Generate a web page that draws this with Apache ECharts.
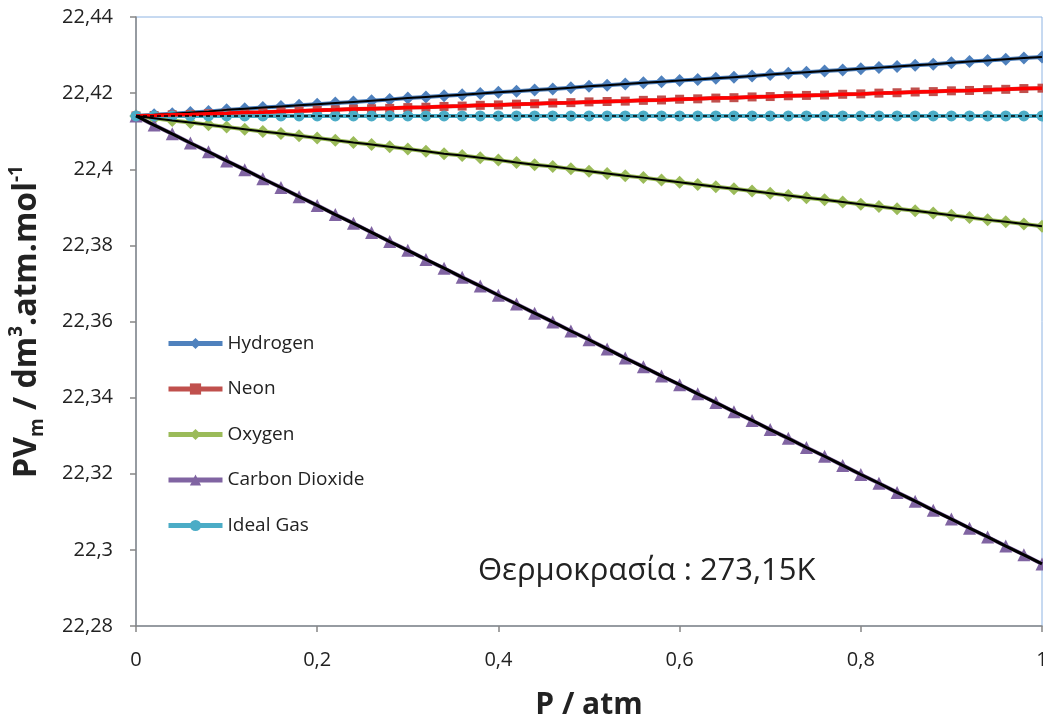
<!DOCTYPE html>
<html>
<head>
<meta charset="utf-8">
<script src="https://cdn.jsdelivr.net/npm/echarts@6/dist/echarts.min.js"></script>
<style>html,body{margin:0;padding:0;background:#fff}#c{width:1043px;height:719px}</style>
</head>
<body>
<div id="c"></div>
<script>
const pressure = [0,0.02,0.04,0.06,0.08,0.1,0.12,0.14,0.16,0.18,0.2,0.22,0.24,0.26,0.28,0.3,0.32,0.34,0.36,0.38,0.4,0.42,0.44,0.46,0.48,0.5,0.52,0.54,0.56,0.58,0.6,0.62,0.64,0.66,0.68,0.7,0.72,0.74,0.76,0.78,0.8,0.82,0.84,0.86,0.88,0.9,0.92,0.94,0.96,0.98,1];

const hydrogen = [22.4140,22.4143,22.4146,22.4149,22.4152,22.4156,22.4159,22.4162,22.4165,22.4168,22.4171,22.4174,22.4177,22.4180,22.4183,22.4187,22.4190,22.4193,22.4196,22.4199,22.4202,22.4205,22.4208,22.4211,22.4214,22.4218,22.4221,22.4224,22.4227,22.4230,22.4233,22.4236,22.4239,22.4242,22.4245,22.4249,22.4252,22.4255,22.4258,22.4261,22.4264,22.4267,22.4270,22.4273,22.4276,22.4280,22.4283,22.4286,22.4289,22.4292,22.4295];

const neon = [22.4140,22.4141,22.4143,22.4144,22.4146,22.4147,22.4149,22.4150,22.4152,22.4153,22.4155,22.4156,22.4158,22.4159,22.4160,22.4162,22.4163,22.4165,22.4166,22.4168,22.4169,22.4171,22.4172,22.4174,22.4175,22.4177,22.4178,22.4179,22.4181,22.4182,22.4184,22.4185,22.4187,22.4188,22.4190,22.4191,22.4193,22.4194,22.4195,22.4197,22.4198,22.4200,22.4201,22.4203,22.4204,22.4206,22.4207,22.4209,22.4210,22.4212,22.4213];

const oxygen = [22.4140,22.4134,22.4128,22.4123,22.4117,22.4111,22.4105,22.4099,22.4094,22.4088,22.4082,22.4076,22.4070,22.4065,22.4059,22.4053,22.4047,22.4041,22.4036,22.4030,22.4024,22.4018,22.4012,22.4007,22.4001,22.3995,22.3989,22.3983,22.3978,22.3972,22.3966,22.3960,22.3954,22.3949,22.3943,22.3937,22.3931,22.3925,22.3920,22.3914,22.3908,22.3902,22.3896,22.3891,22.3885,22.3879,22.3873,22.3867,22.3862,22.3856,22.3850];

const carbonDioxide = [22.4140,22.4116,22.4093,22.4069,22.4046,22.4022,22.3999,22.3975,22.3952,22.3928,22.3905,22.3881,22.3858,22.3834,22.3810,22.3787,22.3763,22.3740,22.3716,22.3693,22.3669,22.3646,22.3622,22.3599,22.3575,22.3552,22.3528,22.3504,22.3481,22.3457,22.3434,22.3410,22.3387,22.3363,22.3340,22.3316,22.3293,22.3269,22.3246,22.3222,22.3198,22.3175,22.3151,22.3128,22.3104,22.3081,22.3057,22.3034,22.3010,22.2987,22.2963];

const idealGas = [22.414,22.414,22.414,22.414,22.414,22.414,22.414,22.414,22.414,22.414,22.414,22.414,22.414,22.414,22.414,22.414,22.414,22.414,22.414,22.414,22.414,22.414,22.414,22.414,22.414,22.414,22.414,22.414,22.414,22.414,22.414,22.414,22.414,22.414,22.414,22.414,22.414,22.414,22.414,22.414,22.414,22.414,22.414,22.414,22.414,22.414,22.414,22.414,22.414,22.414,22.414];

const seriesNames = ['Hydrogen','Neon','Oxygen','Carbon Dioxide','Ideal Gas'];
const xTicks = ['0','0,2','0,4','0,6','0,8','1'];
const annotation = 'Θερμοκρασία : 273,15K';

const FONT = '"Open Sans", "Noto Sans", sans-serif';
const pair = arr => arr.map((v, i) => [pressure[i], v]);

function dataSeries(name, arr, color, symbol, size) {
  return {
    name: name, type: 'line', data: pair(arr), z: 2,
    symbol: symbol, symbolSize: size, showSymbol: true,
    lineStyle: { color: color, width: 4 }, itemStyle: { color: color },
    emphasis: { disabled: true }
  };
}
function overlay(arr, color, width, type) {
  return {
    type: 'line', data: pair(arr), z: 3, symbol: 'none',
    lineStyle: { color: color, width: width, type: type || 'solid' },
    emphasis: { disabled: true }, silent: true
  };
}

const chart = echarts.init(document.getElementById('c'), null, { renderer: 'canvas' });
chart.setOption({
  animation: false,
  backgroundColor: '#ffffff',
  textStyle: { fontFamily: FONT },
  grid: { left: 136, right: 1, top: 17, bottom: 93, containLabel: false, outerBoundsMode: 'none',
    show: true, borderColor: '#8EB4E3', borderWidth: 1, backgroundColor: 'transparent' },
  legend: {
    data: seriesNames, orient: 'vertical', left: 161, top: 329,
    itemWidth: 54, itemHeight: 14, itemGap: 26.5,
    lineStyle: { width: 5 },
    textStyle: { fontFamily: FONT, fontSize: 19, color: '#222' }
  },
  xAxis: {
    type: 'value', min: 0, max: 1, interval: 0.2,
    axisLine: { show: true, lineStyle: { color: '#868686', width: 1.5 } },
    axisTick: { show: true, length: 6, lineStyle: { color: '#868686', width: 1.5 } },
    splitLine: { show: false },
    axisLabel: { margin: 24, fontSize: 20, color: '#222', fontFamily: FONT,
      formatter: v => xTicks[Math.round(v / 0.2)] },
    name: 'P / atm', nameLocation: 'middle', nameGap: 64,
    nameTextStyle: { fontSize: 30, fontWeight: 'bold', color: '#222', fontFamily: FONT }
  },
  yAxis: {
    type: 'value', min: 22.28, max: 22.44, interval: 0.02,
    axisLine: { show: true, lineStyle: { color: '#868686', width: 1.5 } },
    axisTick: { show: true, length: 6, lineStyle: { color: '#868686', width: 1.5 } },
    splitLine: { show: false },
    axisLabel: { margin: 23, fontSize: 20, color: '#222', fontFamily: FONT,
      formatter: v => (Math.round(v * 100) / 100).toString().replace('.', ',') },
    name: '{b|PV}{sub|m}{b| / dm}{sup|3}{b|.atm.mol}{sup|-1}',
    nameLocation: 'middle', nameGap: 89, nameRotate: 90,
    nameTextStyle: {
      color: '#222', fontFamily: FONT,
      rich: {
        b: { fontSize: 32, fontWeight: 'bold', color: '#222', fontFamily: FONT, lineHeight: 40, verticalAlign: 'middle' },
        sub: { fontSize: 19, fontWeight: 'bold', color: '#222', fontFamily: FONT, lineHeight: 40, verticalAlign: 'bottom' },
        sup: { fontSize: 19, fontWeight: 'bold', color: '#222', fontFamily: FONT, lineHeight: 40, verticalAlign: 'top' }
      }
    }
  },
  graphic: [{
    type: 'text', left: 478, top: 556, silent: true,
    style: { text: annotation, fontSize: 31, fontFamily: FONT, fill: '#222' }
  }],
  series: [
    dataSeries('Hydrogen', hydrogen, '#4F81BD', 'diamond', 13),
    dataSeries('Neon', neon, '#C0504D', 'rect', 9),
    dataSeries('Oxygen', oxygen, '#9BBB59', 'diamond', 13),
    dataSeries('Carbon Dioxide', carbonDioxide, '#8064A2', 'triangle', 13),
    dataSeries('Ideal Gas', idealGas, '#4BACC6', 'circle', 11),
    overlay(hydrogen, '#000000', 2),
    overlay(neon, '#FF0000', 3.5),
    overlay(oxygen, '#000000', 2),
    overlay(carbonDioxide, '#000000', 3),
    overlay(idealGas, '#000000', 1.5, [4, 3])
  ]
});
</script>
</body>
</html>
